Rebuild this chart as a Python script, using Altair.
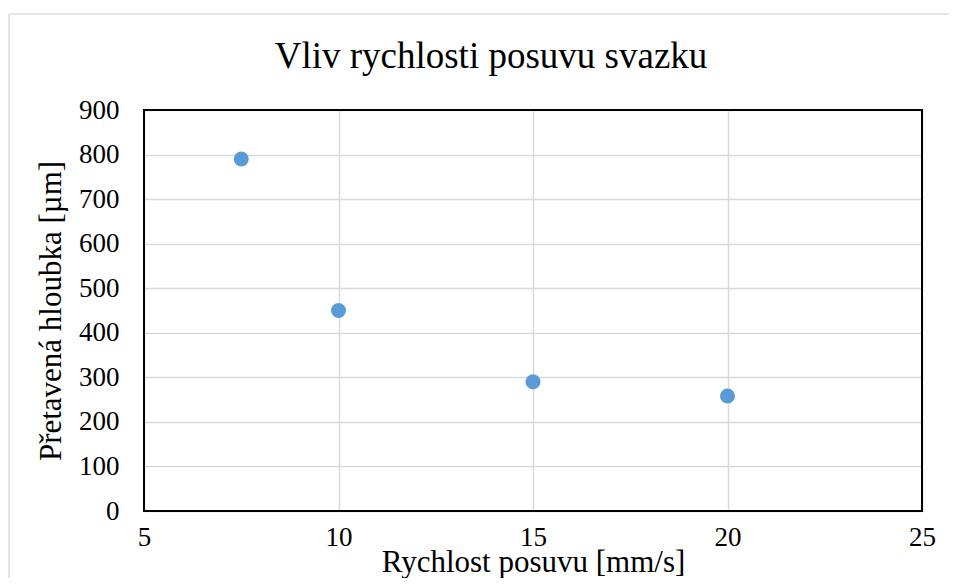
import altair as alt
import pandas as pd

speed = [7.5, 10, 15, 20]
depth = [790, 450, 290, 258]
title_text = ["Vliv rychlosti posuvu svazku"]

W, H = 778, 401
PL, PT = 136, 102

df = pd.DataFrame({"speed": speed, "depth": depth})
FONT = "Liberation Serif"

base = alt.Chart(df)

outer_top = base.mark_rule(stroke="#e6e6e6", strokeWidth=2).encode(
    x=alt.value(-PL + 1), x2=alt.value(W + 40), y=alt.value(-PT + 6)
)
outer_left = base.mark_rule(stroke="#e6e6e6", strokeWidth=2).encode(
    x=alt.value(-PL + 1), y=alt.value(-PT + 6), y2=alt.value(H + 70)
)

points = base.mark_circle(size=225, color="#5B9BD5", opacity=1).encode(
    x=alt.X("speed:Q",
            scale=alt.Scale(domain=[5, 25], nice=False, zero=False),
            axis=alt.Axis(values=[5, 10, 15, 20, 25], title="Rychlost posuvu [mm/s]",
                          grid=True, gridColor="#d9d9d9", gridWidth=1.5,
                          domain=False, ticks=False, labelPadding=13, labelFlush=False,
                          labelFontSize=27, titleFontSize=31, titlePadding=-3,
                          labelFont=FONT, titleFont=FONT, labelColor="black",
                          titleColor="black", titleFontWeight="normal")),
    y=alt.Y("depth:Q",
            scale=alt.Scale(domain=[0, 900], nice=False),
            axis=alt.Axis(values=list(range(0, 901, 100)), title="Přetavená hloubka [µm]",
                          grid=True, gridColor="#d9d9d9", gridWidth=1.5,
                          domain=False, ticks=False, labelPadding=25, labelFlush=False,
                          labelFontSize=27, titleFontSize=31, titlePadding=11,
                          labelFont=FONT, titleFont=FONT, labelColor="black",
                          titleColor="black", titleFontWeight="normal")),
)

frame = base.mark_rect(fill=None, stroke="black", strokeWidth=2).encode(
    x=alt.value(0), x2=alt.value(W), y=alt.value(0), y2=alt.value(H)
)

title = alt.Chart(pd.DataFrame({"t": title_text})).mark_text(
    font=FONT, fontSize=37, color="black", align="center", baseline="alphabetic"
).encode(text="t:N", x=alt.value(W / 2 - 42), y=alt.value(-42))

chart = alt.layer(outer_top, outer_left, points, frame, title).properties(
    width=W, height=H,
    autosize=alt.AutoSizeParams(type="none"),
    padding={"left": PL, "top": PT, "right": 941 - PL - W, "bottom": 570 - PT - H},
).configure_view(stroke=None)

chart.save("out.html", embed_options={"renderer": "svg", "actions": False})
